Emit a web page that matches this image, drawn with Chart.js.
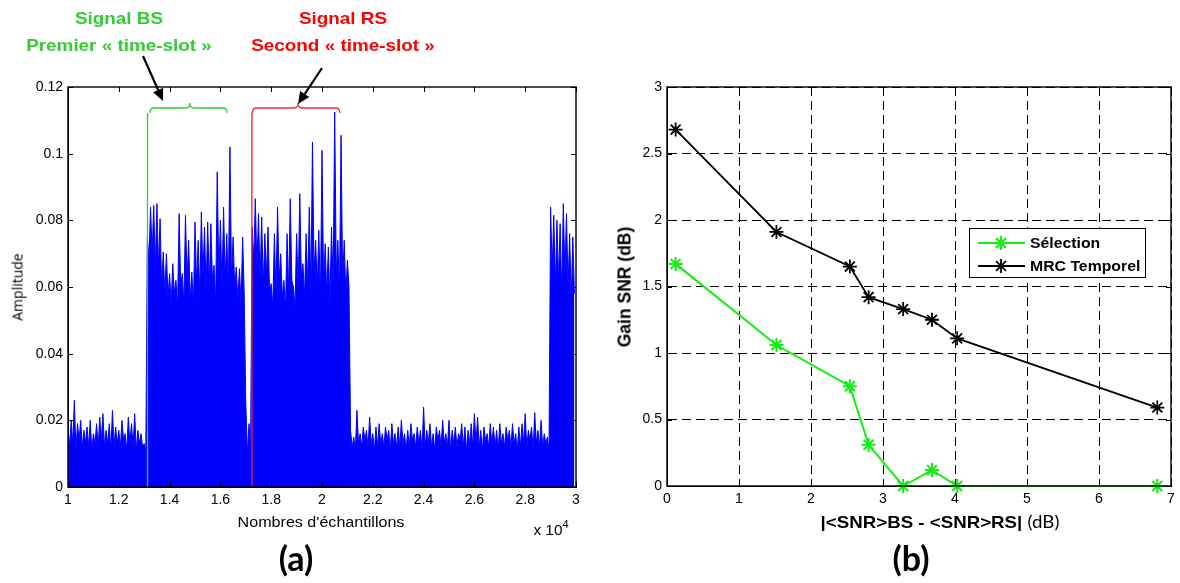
<!DOCTYPE html>
<html><head><meta charset="utf-8">
<script src="https://cdn.jsdelivr.net/npm/chart.js@4.4.1/dist/chart.umd.min.js"></script>
<style>
html,body{margin:0;padding:0;background:#fff;}
#wrap{position:relative;width:1180px;height:583px;overflow:hidden;background:#fff;}
canvas{position:absolute;top:0;}
#cA{left:0;width:600px;height:583px;}
#cB{left:600px;width:580px;height:583px;}
.t{position:absolute;white-space:nowrap;line-height:1;transform:translate(-50%,-50%);color:#000;}
.ann{font:bold 17px 'Liberation Sans',Arial,sans-serif;transform:translate(-50%,-50%) scaleX(1.11);}
</style></head><body>
<div id="wrap">
<canvas id="cA" width="600" height="583"></canvas>
<canvas id="cB" width="580" height="583"></canvas>
<div class="t ann" style="left:119px;top:19px;color:#33cc33;">Signal BS</div>
<div class="t ann" style="left:119px;top:46px;color:#33cc33;">Premier « time-slot »</div>
<div class="t ann" style="left:343px;top:19px;color:#ff0000;">Signal RS</div>
<div class="t ann" style="left:343px;top:46px;color:#ff0000;">Second « time-slot »</div>
<div class="t" style="left:17px;top:287px;transform:translate(-50%,-50%) rotate(-90deg);font:14px 'Open Sans',sans-serif;color:#000;">Amplitude</div>
<div class="t" style="left:321px;top:522px;transform:translate(-50%,-50%) scaleX(1.15);font:14px 'Liberation Sans',Arial,sans-serif;">Nombres d'échantillons</div>
<div class="t" style="left:551px;top:528px;transform:translate(-50%,-50%) scaleX(1.1);font:14px 'Liberation Sans',Arial,sans-serif;">x 10<sup style="font-size:10px;vertical-align:7px;">4</sup></div>
<div class="t" style="left:296px;top:557px;font:bold 34px Lato,sans-serif;">(a)</div>
<div class="t" style="left:625px;top:287px;transform:translate(-50%,-50%) rotate(-90deg);font:bold 17.5px 'Liberation Sans',Arial,sans-serif;">Gain SNR (dB)</div>
<div class="t" style="left:940px;top:522px;transform:translate(-50%,-50%) scaleX(1.1);font:bold 17px 'Liberation Sans',Arial,sans-serif;">|&lt;SNR&gt;BS - &lt;SNR&gt;RS| <span style="font:17px Lato,sans-serif;">(dB)</span></div>
<div class="t" style="left:911px;top:557px;font:bold 34px Lato,sans-serif;">(b)</div>
</div>
<script>
// ---------- Panel (a): signal envelope (bins of 125 samples) ----------
const sampleStart = 10000;
const sampleStep = 125;
// peak amplitude per bin
const peakQuietA = [0.018,0.020,0.026,0.019,0.020,0.017,0.018,0.020,0.016,0.019,0.021,0.022,0.017,0.019,0.023,0.018,0.017,0.020,0.016,0.021,0.019,0.022,0.017,0.016,0.013];
const peakBurstBS = [0.075,0.084,0.0845,0.085,0.0805,0.0705,0.070,0.064,0.067,0.062,0.082,0.064,0.0815,0.074,0.0645,0.0795,0.074,0.0825,0.078,0.0795,0.079,0.0665,0.0945,0.080,0.084,0.076,0.102,0.075,0.066,0.0655,0.075];
const peakGap = [0.025,0.019];
const peakBurstRS = [0.078,0.0865,0.082,0.081,0.076,0.078,0.061,0.076,0.084,0.070,0.062,0.076,0.0865,0.060,0.076,0.088,0.067,0.076,0.084,0.1035,0.074,0.077,0.101,0.073,0.072,0.078,0.1125,0.074,0.1055,0.074,0.068];
const peakQuietB = [0.017,0.015,0.023,0.016,0.018,0.017,0.021,0.016,0.018,0.019,0.016,0.018,0.017,0.019,0.016,0.018,0.020,0.016,0.017,0.019,0.016,0.018,0.017,0.024,0.017,0.019,0.016,0.018,0.017,0.020,0.016,0.020,0.017,0.018,0.016,0.019,0.018,0.017,0.019,0.022,0.021,0.017,0.018,0.016,0.019,0.018,0.017,0.019,0.016,0.018,0.017,0.019,0.016,0.018,0.019,0.022,0.017,0.018,0.0223,0.017,0.020,0.016,0.015];
const peakBurstEnd = [0.084,0.0815,0.080,0.079,0.085,0.082,0.076,0.075];
// top of the solid body per bin
const bodyQuietA = [0.012,0.013,0.011,0.014,0.012,0.013,0.012,0.011,0.013,0.012,0.014,0.012,0.013,0.011,0.012,0.013,0.012,0.014,0.011,0.013,0.012,0.011,0.013,0.012,0.011];
const bodyBurstBS = [0.068,0.070,0.066,0.066,0.060,0.058,0.057,0.055,0.058,0.054,0.060,0.055,0.062,0.056,0.054,0.061,0.057,0.063,0.059,0.060,0.062,0.055,0.064,0.060,0.062,0.058,0.063,0.060,0.056,0.055,0.058];
const bodyGap = [0.010,0.012];
const bodyBurstRS = [0.068,0.066,0.062,0.060,0.063,0.058,0.054,0.058,0.062,0.057,0.053,0.058,0.062,0.054,0.059,0.063,0.057,0.060,0.058,0.064,0.060,0.056,0.061,0.058,0.055,0.060,0.064,0.058,0.062,0.058,0.060];
const bodyQuietB = [0.012,0.011,0.013,0.012,0.014,0.012,0.013,0.011,0.012,0.013,0.012,0.014,0.011,0.013,0.012,0.012,0.013,0.011,0.012,0.014,0.012,0.013,0.011,0.012,0.013,0.012,0.011,0.014,0.012,0.013,0.012,0.011,0.013,0.012,0.014,0.012,0.011,0.013,0.012,0.013,0.012,0.011,0.014,0.012,0.013,0.012,0.011,0.013,0.012,0.014,0.012,0.013,0.011,0.012,0.013,0.012,0.014,0.011,0.013,0.012,0.012,0.013,0.011];
const bodyBurstEnd = [0.065,0.060,0.062,0.058,0.064,0.060,0.056,0.058];

const xTickLabelsA = ['1','1.2','1.4','1.6','1.8','2','2.2','2.4','2.6','2.8','3'];
const yTickLabelsA = ['0','0.02','0.04','0.06','0.08','0.1','0.12'];

// ---------- Panel (b) ----------
const snrDiff = [0.12,1.52,2.54,2.80,3.28,3.68,4.03,6.81];
const gainSelection = [1.67,1.06,0.75,0.31,0.00,0.12,0.00,0.00];
const gainMRC = [2.68,1.91,1.65,1.42,1.33,1.25,1.11,0.59];
const xTickLabelsB = ['0','1','2','3','4','5','6','7'];
const yTickLabelsB = ['0','0.5','1','1.5','2','2.5','3'];

// ---------- build (a) ----------
const peakAmp = [].concat(peakQuietA, peakBurstBS, peakGap, peakBurstRS, peakQuietB, peakBurstEnd);
const bodyAmp = [].concat(bodyQuietA, bodyBurstBS, bodyGap, bodyBurstRS, bodyQuietB, bodyBurstEnd);
const signalPts = [];
peakAmp.forEach((p, i) => {
  const s = sampleStart + i * sampleStep;
  signalPts.push({x: s, y: p});
  signalPts.push({x: s + sampleStep / 2, y: bodyAmp[i]});
});

const tickFont = {family: "'Liberation Sans', Arial, sans-serif", size: 14};

// annotations of panel (a), in data units
const startLines = [{at: 13130, top: 0.1122, color: '#33cc33'}, {at: 17240, top: 0.1122, color: '#ff1a1a'}];
const braces = [
  {from: 13230, to: 16260, tip: 14800, yEnd: 0.1122, yBar: 0.1137, yTip: 0.1152, color: '#33cc33'},
  {from: 17260, to: 20700, tip: 19055, yEnd: 0.1122, yBar: 0.1137, yTip: 0.1152, color: '#ff2a2a'}
];
const arrows = [
  {from: [12953, 0.1293], to: [13740, 0.1158]},
  {from: [20000, 0.1257], to: [19055, 0.1149]}
];

function frameAndTicks(chart, len, lw) {
  const {ctx, chartArea: ca, scales: {x, y}} = chart;
  ctx.save();
  ctx.strokeStyle = '#000';
  ctx.lineWidth = 1;
  ctx.beginPath();
  x.ticks.forEach(t => {
    const px = Math.round(x.getPixelForValue(t.value)) + 0.5;
    ctx.moveTo(px, ca.bottom); ctx.lineTo(px, ca.bottom - len);
    ctx.moveTo(px, ca.top); ctx.lineTo(px, ca.top + len);
  });
  y.ticks.forEach(t => {
    const py = Math.round(y.getPixelForValue(t.value)) + 0.5;
    ctx.moveTo(ca.left, py); ctx.lineTo(ca.left + len, py);
    ctx.moveTo(ca.right, py); ctx.lineTo(ca.right - len, py);
  });
  ctx.stroke();
  ctx.lineWidth = lw;
  ctx.strokeRect(ca.left, ca.top, ca.right - ca.left, ca.bottom - ca.top);
  ctx.restore();
}

const annotPluginA = {
  id: 'annotA',
  afterDatasetsDraw(chart) {
    const {ctx, scales: {x, y}} = chart;
    ctx.save();
    startLines.forEach(l => {
      const px = x.getPixelForValue(l.at);
      ctx.strokeStyle = l.color; ctx.lineWidth = 1.3;
      ctx.beginPath(); ctx.moveTo(px, y.getPixelForValue(l.top)); ctx.lineTo(px, y.getPixelForValue(0)); ctx.stroke();
    });
    braces.forEach(b => {
      const x1 = x.getPixelForValue(b.from), x2 = x.getPixelForValue(b.to), xm = x.getPixelForValue(b.tip);
      const ye = y.getPixelForValue(b.yEnd), yb = y.getPixelForValue(b.yBar), yt = y.getPixelForValue(b.yTip);
      const r = 4;
      ctx.strokeStyle = b.color; ctx.lineWidth = 1.3;
      ctx.beginPath();
      ctx.moveTo(x1, ye);
      ctx.quadraticCurveTo(x1, yb, x1 + r, yb);
      ctx.lineTo(xm - r, yb);
      ctx.quadraticCurveTo(xm, yb, xm, yt);
      ctx.quadraticCurveTo(xm, yb, xm + r, yb);
      ctx.lineTo(x2 - r, yb);
      ctx.quadraticCurveTo(x2, yb, x2, ye);
      ctx.stroke();
    });
    ctx.restore();
  },
  afterDraw(chart) {
    const {ctx, scales: {x, y}} = chart;
    frameAndTicks(chart, 5, 1.4);
    ctx.save();
    arrows.forEach(a => {
      const x0 = x.getPixelForValue(a.from[0]), y0 = y.getPixelForValue(a.from[1]);
      const x1 = x.getPixelForValue(a.to[0]), y1 = y.getPixelForValue(a.to[1]);
      const ang = Math.atan2(y1 - y0, x1 - x0), hl = 12, hw = 5.5;
      const bx = x1 - hl * Math.cos(ang), by = y1 - hl * Math.sin(ang);
      ctx.strokeStyle = '#000'; ctx.fillStyle = '#000'; ctx.lineWidth = 2.2;
      ctx.beginPath(); ctx.moveTo(x0, y0); ctx.lineTo(bx, by); ctx.stroke();
      ctx.beginPath();
      ctx.moveTo(x1, y1);
      ctx.lineTo(bx + hw * Math.sin(ang), by - hw * Math.cos(ang));
      ctx.lineTo(bx - hw * Math.sin(ang), by + hw * Math.cos(ang));
      ctx.closePath(); ctx.fill();
    });
    ctx.restore();
  }
};

new Chart(document.getElementById('cA'), {
  type: 'line',
  data: {datasets: [{
    label: 'Amplitude',
    data: signalPts,
    borderColor: '#0000ff', backgroundColor: '#0000ff',
    borderWidth: 1, pointRadius: 0, fill: 'origin', tension: 0
  }]},
  options: {
    responsive: false, animation: false, events: [],
    layout: {padding: {top: 87, right: 24, left: 0, bottom: 0}},
    plugins: {legend: {display: false}, tooltip: {enabled: false}},
    scales: {
      x: {type: 'linear', min: 10000, max: 30000,
        ticks: {stepSize: 2000, autoSkip: false, maxRotation: 0, color: '#000', font: tickFont, padding: 5,
          callback: (v, i) => xTickLabelsA[i]},
        grid: {display: false, drawTicks: false}, border: {display: true, color: '#000'},
        afterFit: s => { s.height = 96; }},
      y: {type: 'linear', min: 0, max: 0.12,
        ticks: {stepSize: 0.02, autoSkip: false, color: '#000', font: tickFont, padding: 5,
          callback: (v, i) => yTickLabelsA[i]},
        grid: {display: false, drawTicks: false}, border: {display: true, color: '#000'},
        afterFit: s => { s.width = 68; }}
    }
  },
  plugins: [annotPluginA]
});

// ---------- build (b) ----------
const legendPluginB = {
  id: 'legendB',
  afterDraw(chart) {
    const {ctx, chartArea: ca} = chart;
    frameAndTicks(chart, 5, 1.4);
    const bx = ca.left + 302, by = ca.top + 141, bw = 176, bh = 49;
    ctx.save();
    ctx.fillStyle = '#fff'; ctx.fillRect(bx, by, bw, bh);
    ctx.strokeStyle = '#000'; ctx.lineWidth = 1;
    ctx.strokeRect(bx + 0.5, by + 0.5, bw, bh);
    chart.data.datasets.forEach((ds, i) => {
      const ry = by + 15 + i * 23;
      ctx.strokeStyle = ds.borderColor; ctx.lineWidth = ds.borderWidth;
      ctx.beginPath(); ctx.moveTo(bx + 9, ry); ctx.lineTo(bx + 56, ry); ctx.stroke();
      ctx.lineWidth = ds.pointBorderWidth;
      Chart.helpers.drawPoint(ctx, {pointStyle: 'star', radius: ds.pointRadius, borderWidth: ds.pointBorderWidth, rotation: 0}, bx + 32, ry);
      ctx.save();
      ctx.translate(bx + 61, ry + 1);
      ctx.scale(1.09, 1);
      ctx.fillStyle = '#000';
      ctx.font = "bold 14.5px 'Liberation Sans', Arial, sans-serif";
      ctx.textBaseline = 'middle'; ctx.textAlign = 'left';
      ctx.fillText(ds.label, 0, 0);
      ctx.restore();
    });
    ctx.restore();
  }
};

new Chart(document.getElementById('cB'), {
  type: 'scatter',
  data: {datasets: [
    {label: 'Sélection', data: snrDiff.map((d, i) => ({x: d, y: gainSelection[i]})),
     showLine: true, borderColor: '#11ee11', backgroundColor: '#11ee11', borderWidth: 2,
     pointStyle: 'star', pointRadius: 7, pointBorderWidth: 2, clip: false, tension: 0},
    {label: 'MRC Temporel', data: snrDiff.map((d, i) => ({x: d, y: gainMRC[i]})),
     showLine: true, borderColor: '#000000', backgroundColor: '#000000', borderWidth: 1.8,
     pointStyle: 'star', pointRadius: 7, pointBorderWidth: 1.8, clip: false, tension: 0}
  ]},
  options: {
    responsive: false, animation: false, events: [],
    layout: {padding: {top: 87, right: 7, left: 0, bottom: 0}},
    plugins: {legend: {display: false}, tooltip: {enabled: false}},
    scales: {
      x: {type: 'linear', min: 0, max: 7,
        ticks: {stepSize: 1, autoSkip: false, maxRotation: 0, color: '#000', font: tickFont, padding: 5,
          callback: (v, i) => xTickLabelsB[i]},
        grid: {display: true, color: '#000', lineWidth: 1, drawTicks: false},
        border: {display: true, color: '#000', dash: [9, 5]},
        afterFit: s => { s.height = 97; }},
      y: {type: 'linear', min: 0, max: 3,
        ticks: {stepSize: 0.5, autoSkip: false, color: '#000', font: tickFont, padding: 5,
          callback: (v, i) => yTickLabelsB[i]},
        grid: {display: true, color: '#000', lineWidth: 1, drawTicks: false},
        border: {display: true, color: '#000', dash: [9, 5]},
        afterFit: s => { s.width = 67; }}
    }
  },
  plugins: [legendPluginB]
});
</script>
</body></html>
